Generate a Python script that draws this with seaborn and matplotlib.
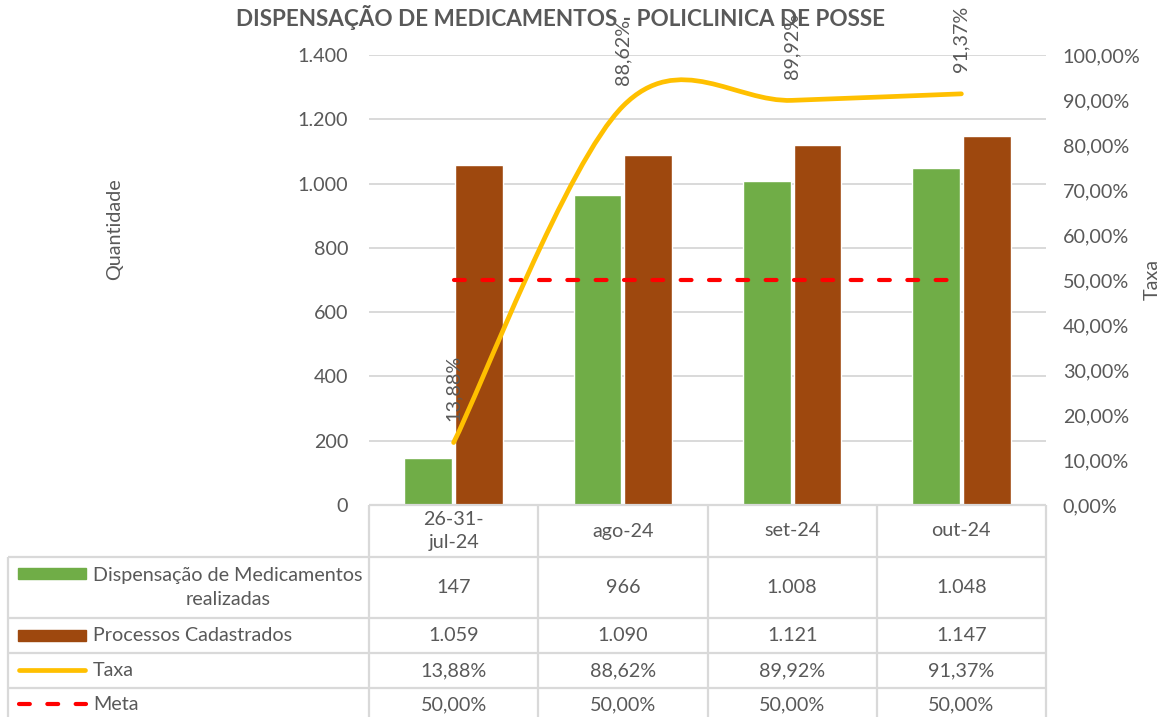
import numpy as np
import pandas as pd
import matplotlib
matplotlib.use("Agg")
import matplotlib.pyplot as plt
from matplotlib.path import Path
from matplotlib.patches import PathPatch, Rectangle
import seaborn as sns

# dados
categorias = ["26-31-\njul-24", "ago-24", "set-24", "out-24"]
dispensacao = [147, 966, 1008, 1048]
processos = [1059, 1090, 1121, 1147]
taxa = [13.88, 88.62, 89.92, 91.37]
meta = [50.0, 50.0, 50.0, 50.0]
nomes = ["Dispensação de Medicamentos\nrealizadas", "Processos Cadastrados", "Taxa", "Meta"]

VERDE, MARROM, AMARELO, VERMELHO = "#70ad47", "#9e480e", "#ffc000", "#ff0000"
CINZA, GRADE = "#595959", "#d9d9d9"
TRACO = (0, (2.6, 4.2))


def fmt_milhar(v):
    return f"{v:,.0f}".replace(",", ".")


def fmt_pct(v):
    return f"{v:.2f}%".replace(".", ",")


sns.set_theme(style="white")
plt.rcParams["font.family"] = ["Lato", "DejaVu Sans"]
FS = 14.2

W, H = 1165, 717
fig = plt.figure(figsize=(W / 100, H / 100), dpi=100)
x0, x1, y_top, y_bot = 369, 1046, 55, 505
ax = fig.add_axes([x0 / W, 1 - y_bot / H, (x1 - x0) / W, (y_bot - y_top) / H])

# --- barras ---
df = pd.DataFrame({
    "categoria": categorias * 2,
    "serie": [nomes[0]] * 4 + [nomes[1]] * 4,
    "valor": dispensacao + processos,
})
sns.barplot(data=df, x="categoria", y="valor", hue="serie", palette=[VERDE, MARROM],
            saturation=1, width=0.6, gap=0.06, ax=ax, legend=False, zorder=2)

ax.set_xlim(-0.5, 3.5)
ax.set_ylim(0, 1400)
ax.set_yticks(range(0, 1401, 200))
ax.set_yticklabels([fmt_milhar(v) for v in range(0, 1401, 200)])
ax.set_xticks([])
ax.set_xlabel("")
ax.set_ylabel("")
ax.yaxis.grid(True, color=GRADE, lw=1.4)
ax.set_axisbelow(True)
ax.tick_params(axis="y", length=0, pad=15, labelsize=FS, labelcolor=CINZA)
for s in ax.spines.values():
    s.set_visible(False)

# --- eixo secundario: taxa e meta ---
ax2 = ax.twinx()
ax2.set_ylim(0, 100)
ax2.set_yticks(range(0, 101, 10))
ax2.set_yticklabels([fmt_pct(v) for v in range(0, 101, 10)])
ax2.tick_params(axis="y", length=0, pad=12, labelsize=FS, labelcolor=CINZA)
for s in ax2.spines.values():
    s.set_visible(False)

# linha suavizada (estilo Excel, bezier catmull-rom)
pts = np.column_stack([np.arange(len(taxa)), taxa]).astype(float)
verts, codes = [pts[0]], [Path.MOVETO]
for i in range(len(pts) - 1):
    p_ant = pts[max(i - 1, 0)]
    p_prox = pts[min(i + 2, len(pts) - 1)]
    verts += [pts[i] + (pts[i + 1] - p_ant) / 6, pts[i + 1] - (p_prox - pts[i]) / 6, pts[i + 1]]
    codes += [Path.CURVE4] * 3
ax2.add_patch(PathPatch(Path(verts, codes), fill=False, edgecolor=AMARELO, lw=3.4,
                        capstyle="round", zorder=3))

ax2.plot(range(len(meta)), meta, color=VERMELHO, lw=3, linestyle=TRACO,
         dash_capstyle="round", zorder=4)

for i, v in enumerate(taxa):
    ax2.annotate(fmt_pct(v), (i, v), xytext=(0, 15.5), textcoords="offset points",
                 rotation=90, ha="center", va="bottom", color=CINZA, fontsize=FS)

# titulos
fig.text(561 / W, 1 - 18 / H, "DISPENSAÇÃO DE MEDICAMENTOS - POLICLINICA DE POSSE",
         ha="center", va="center", fontsize=16.2, fontweight="bold", color=CINZA)
fig.text(115 / W, 1 - 229 / H, "Quantidade", rotation=90, ha="center", va="center",
         fontsize=FS, color=CINZA)
fig.text(1152 / W, 1 - 280 / H, "Taxa", rotation=90, ha="center", va="center",
         fontsize=FS, color=CINZA)

# --- tabela de dados ---
tab = fig.add_axes([0, 0, 1, 1])
tab.set_xlim(0, W)
tab.set_ylim(H, 0)
tab.axis("off")

cols = [ax.transData.transform((i - 0.5, 0))[0] for i in range(len(categorias) + 1)]
linhas = [505, 557, 618, 653, 688]
esq = 8
kw = dict(color=GRADE, lw=1.6, solid_capstyle="butt")
tab.plot([cols[0], cols[-1]], [linhas[0]] * 2, **kw)
for y in linhas[1:]:
    tab.plot([esq, cols[-1]], [y, y], **kw)
tab.plot([esq, esq], [linhas[1], H + 5], **kw)
for x in cols:
    tab.plot([x, x], [linhas[0], H + 5], **kw)

centros = [(a + b) / 2 for a, b in zip(cols[:-1], cols[1:])]
for cx, c in zip(centros, categorias):
    tab.text(cx, 531, c, ha="center", va="center", fontsize=FS, color=CINZA,
             multialignment="center", linespacing=1.45)

linhas_y = [587.5, 635.5, 670.5, 705]
valores = [[fmt_milhar(v) for v in dispensacao], [fmt_milhar(v) for v in processos],
           [fmt_pct(v) for v in taxa], [fmt_pct(v) for v in meta]]
for y, vals in zip(linhas_y, valores):
    for cx, t in zip(centros, vals):
        tab.text(cx, y, t, ha="center", va="center", fontsize=FS, color=CINZA)

tab.text(93, linhas_y[0], nomes[0], ha="left", va="center", fontsize=FS, color=CINZA,
         multialignment="center", linespacing=1.45)
for y, n in zip(linhas_y[1:], nomes[1:]):
    tab.text(93, y, n, ha="left", va="center", fontsize=FS, color=CINZA)

# chaves da legenda
tab.add_patch(Rectangle((18, 568), 68, 11, color=VERDE))
tab.add_patch(Rectangle((18, 630), 68, 11, color=MARROM))
tab.plot([19, 85], [670, 670], color=AMARELO, lw=3.4, solid_capstyle="round")
tab.plot([19, 86], [704, 704], color=VERMELHO, lw=3, linestyle=TRACO, dash_capstyle="round")

fig.savefig("out.png", dpi=100)
